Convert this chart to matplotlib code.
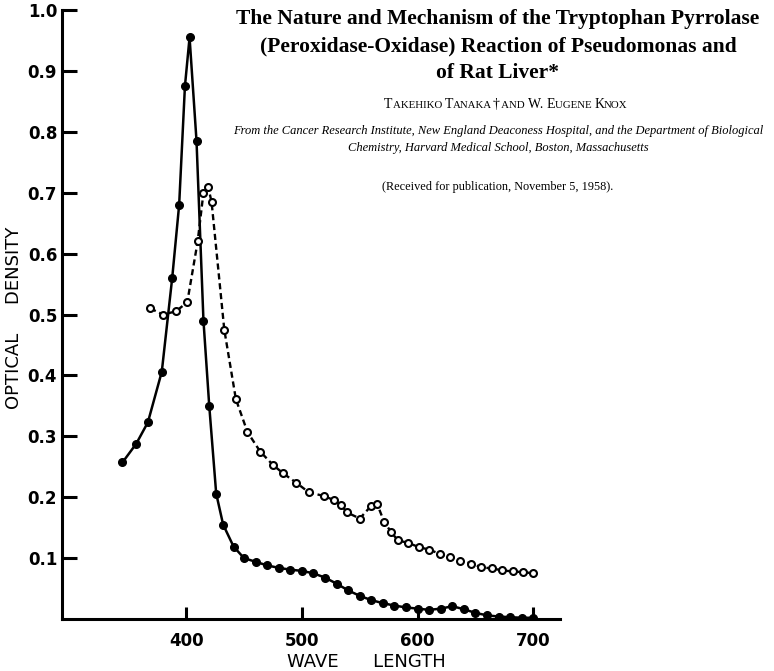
import matplotlib
matplotlib.use("Agg")
import matplotlib.pyplot as plt
from matplotlib.offsetbox import TextArea, HPacker, AnchoredOffsetbox

# ---- data (wavelength in nm, optical density) ----
solid_nm = [345, 357, 367, 379, 388, 394, 399, 403, 409, 415, 420, 426, 432, 441,
            450, 460, 470, 480, 490, 500, 510, 520, 530, 540, 550, 560, 570, 580,
            590, 600, 610, 620, 630, 640, 650, 660, 670, 680, 690, 700]
solid_od = [0.257, 0.288, 0.323, 0.406, 0.56, 0.68, 0.875, 0.955, 0.785, 0.49, 0.35, 0.206, 0.155, 0.119,
            0.100, 0.094, 0.088, 0.084, 0.081, 0.079, 0.075, 0.068, 0.058, 0.047, 0.038, 0.031, 0.026, 0.022,
            0.019, 0.017, 0.015, 0.017, 0.021, 0.016, 0.010, 0.006, 0.004, 0.003, 0.002, 0.002]

dashed_nm = [369, 380, 391, 401, 410, 415, 419, 422, 433, 443, 453, 464, 475, 484, 495, 506,
             519, 528, 534, 539, 550, 560, 565, 571, 577, 583,
             592, 601, 610, 619, 628, 637, 646, 655, 664, 673, 682, 691, 700]
dashed_od = [0.51, 0.500, 0.505, 0.52, 0.62, 0.70, 0.71, 0.685, 0.475, 0.361, 0.307, 0.275, 0.253, 0.239, 0.224, 0.208,
             0.202, 0.195, 0.187, 0.175, 0.165, 0.186, 0.189, 0.160, 0.143, 0.129,
             0.125, 0.118, 0.114, 0.107, 0.101, 0.096, 0.091, 0.085, 0.083, 0.080, 0.078, 0.077, 0.075]

x_ticks = [400, 500, 600, 700]
y_ticks = [0.1, 0.2, 0.3, 0.4, 0.5, 0.6, 0.7, 0.8, 0.9, 1.0]
y_tick_labels = ["0.1", "0.2", "0.3", "0.4", "0.5", "0.6", "0.7", "0.8", "0.9", "1.0"]

title_lines = ["The Nature and Mechanism of the Tryptophan Pyrrolase",
               "(Peroxidase-Oxidase) Reaction of Pseudomonas and",
               "of Rat Liver*"]
# authors in small capitals: (text, is_capital)
author_runs = [("T", True), ("AKEHIKO ", False), ("T", True), ("ANAKA", False), ("†", True),
               (" AND ", False), ("W. ", True), ("E", True), ("UGENE ", False), ("K", True), ("NOX", False)]
affiliation = ["From the Cancer Research Institute, New England Deaconess Hospital, and the Department of Biological",
               "Chemistry, Harvard Medical School, Boston, Massachusetts"]
received = "(Received for publication, November 5, 1958)."

W, H = 774, 671
fig = plt.figure(figsize=(W / 100, H / 100), dpi=100)
fig.patch.set_facecolor("white")

ax_l, ax_b, ax_t, ax_r = 62, 619, 10, 560
ax = fig.add_axes([ax_l / W, 1 - ax_b / H, (ax_r - ax_l) / W, (ax_b - ax_t) / H])
ax.set_xlim(292.8, 723)
ax.set_ylim(0, 1.0)

ax.plot(solid_nm, solid_od, color="black", lw=1.8, marker="o", ms=5.5,
        mfc="black", mec="black", zorder=3)
# dashed connecting line drawn under the open markers
ax.plot(dashed_nm, dashed_od, color="black", lw=1.7, ls=(0, (2.6, 1.6)), zorder=2)
ax.plot(dashed_nm, dashed_od, ls="none", marker="o", ms=5,
        mfc="white", mec="black", mew=1.5, zorder=3)

for s in ["top", "right"]:
    ax.spines[s].set_visible(False)
for s in ["left", "bottom"]:
    ax.spines[s].set_linewidth(2.2)

tick_font = dict(family="DejaVu Sans", weight="bold", size=12)
ax.set_xticks(x_ticks)
ax.set_xticklabels([str(v) for v in x_ticks], fontdict=tick_font)
ax.set_yticks(y_ticks)
ax.set_yticklabels(y_tick_labels, fontdict=tick_font)
ax.tick_params(axis="y", direction="in", length=11, width=2.2, pad=3.5)
ax.tick_params(axis="x", direction="in", length=9, width=2.2, pad=9.5)

fig.text(14 / W, 1 - 318 / H, "OPTICAL     DENSITY", rotation=90, ha="center", va="center",
         family="DejaVu Sans", size=13)
fig.text(366 / W, 1 - 662 / H, "WAVE      LENGTH", ha="center", va="center",
         family="DejaVu Sans", size=13)

cx = 498 / W
ys = [19, 46, 73]
for line, y in zip(title_lines, ys):
    fig.text(cx, 1 - y / H, line, ha="center", va="center", family="Liberation Serif",
             weight="bold", size=15.5)

children = [TextArea(t, textprops=dict(family="Liberation Serif", size=(10 if cap else 7.8)))
            for t, cap in author_runs]
box = HPacker(children=children, align="baseline", pad=0, sep=0)
anch = AnchoredOffsetbox(loc="center", child=box, frameon=False, pad=0, borderpad=0,
                         bbox_to_anchor=(506 / W, 1 - 104 / H), bbox_transform=fig.transFigure)
fig.add_artist(anch)

fig.text(cx, 1 - 131 / H, affiliation[0], ha="center", va="center", family="Liberation Serif",
         style="italic", size=9.0)
fig.text(cx, 1 - 148 / H, affiliation[1], ha="center", va="center", family="Liberation Serif",
         style="italic", size=9.0)
fig.text(cx, 1 - 187 / H, received, ha="center", va="center", family="Liberation Serif", size=8.8)

fig.savefig("out.png", dpi=100, facecolor="white")
